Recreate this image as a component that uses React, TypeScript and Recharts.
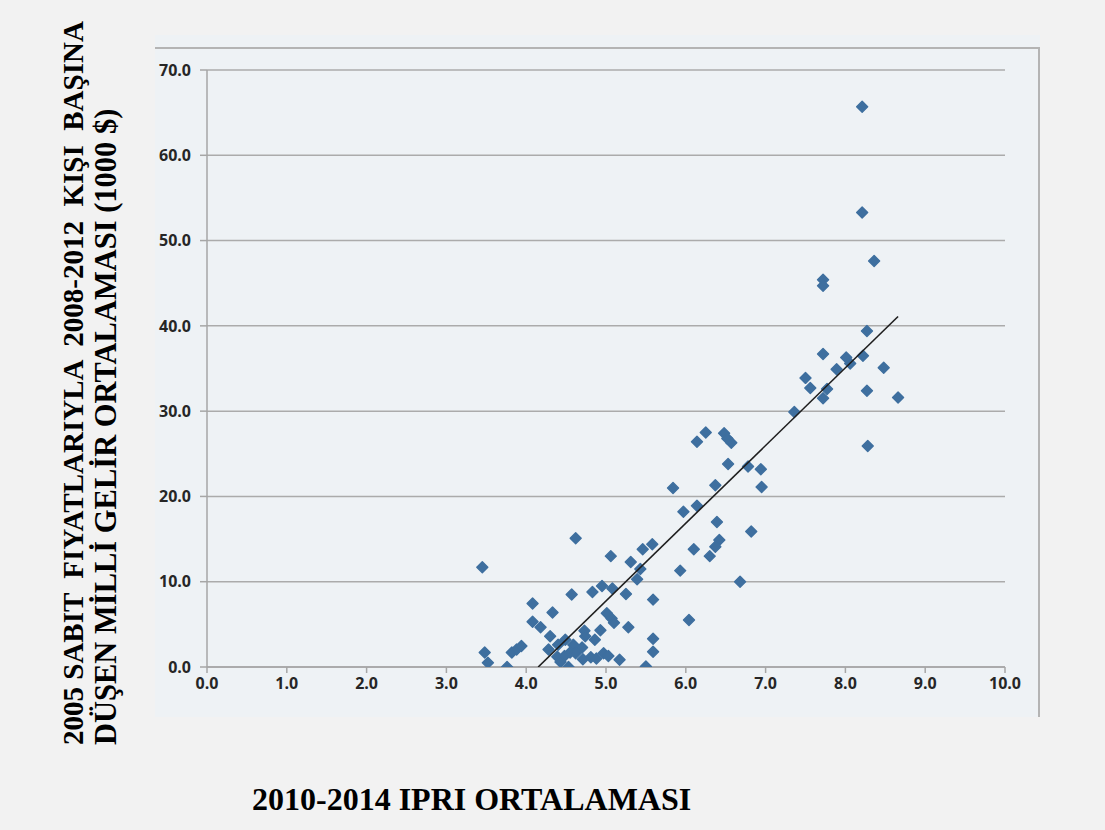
import React from 'react';
import { ScatterChart, Scatter, XAxis, YAxis, CartesianGrid } from 'recharts';

// IPRI average 2010-2014 (x) for each country
const ipri: number[] = [
  3.45, 3.48, 3.52, 3.76, 3.82, 3.88, 3.94,
  4.08, 4.08, 4.18, 4.33, 4.30, 4.28,
  4.40, 4.49, 4.39, 4.48, 4.55, 4.43, 4.53,
  4.57, 4.62, 4.83, 4.95, 5.08, 5.25, 5.39,
  5.59, 5.01, 5.07, 5.10, 5.28, 4.93, 4.73,
  4.74, 4.86, 5.59, 5.59, 4.59, 4.70, 4.62,
  4.81, 4.88, 4.97, 5.03, 4.71, 5.17, 5.50,
  5.06, 5.31, 5.43, 5.46, 5.58, 5.93, 6.04, 6.68,
  6.25, 6.14, 6.48, 6.52, 6.57, 6.53, 6.78, 6.94, 6.95, 5.84,
  6.37, 6.14, 5.97, 6.39, 6.82, 6.42, 6.37, 6.30, 6.10,
  7.36, 8.21, 8.21, 8.36, 7.72, 7.72, 8.27, 7.72, 8.01, 8.06,
  8.22, 7.89, 8.48, 7.50, 7.56, 7.77, 7.72, 8.27, 8.66, 8.28,
];

// 2008-2012 average per-capita national income, constant 2005 prices (1000 $)
const income: number[] = [
  11.7, 1.7, 0.5, 0.0, 1.7, 2.05, 2.45,
  7.45, 5.3, 4.65, 6.4, 3.6, 2.05,
  2.6, 3.2, 1.2, 1.3, 1.7, 0.6, 0.0,
  8.5, 15.1, 8.8, 9.5, 9.2, 8.55, 10.3,
  7.9, 6.3, 5.7, 5.2, 4.65, 4.3, 4.25,
  3.6, 3.2, 3.3, 1.8, 2.6, 2.3, 1.6,
  1.15, 1.0, 1.6, 1.3, 0.9, 0.85, 0.05,
  13.0, 12.3, 11.5, 13.8, 14.4, 11.3, 5.5, 10.0,
  27.5, 26.4, 27.4, 26.8, 26.3, 23.8, 23.5, 23.2, 21.1, 21.0,
  21.3, 18.9, 18.2, 17.0, 15.9, 14.9, 14.1, 13.0, 13.8,
  29.9, 65.7, 53.3, 47.6, 45.4, 44.7, 39.4, 36.7, 36.3, 35.6,
  36.5, 34.9, 35.1, 33.9, 32.7, 32.6, 31.5, 32.4, 31.6, 25.9,
];

// Linear trend line end points
const trendX: number[] = [4.15, 8.66];
const trendY: number[] = [0.0, 41.1];

const xTicks: number[] = [0, 1, 2, 3, 4, 5, 6, 7, 8, 9, 10];
const yTicks: number[] = [0, 10, 20, 30, 40, 50, 60, 70];

const yTitleLine1 = '2005 SABIT  FIYATLARIYLA  2008-2012  KIŞI  BAŞINA';
const yTitleLine2 = 'DÜŞEN MİLLİ GELİR ORTALAMASI (1000 $)';
const xTitle = '2010-2014 IPRI ORTALAMASI';

const points = ipri.map((x, i) => ({ x, y: income[i] }));
const trend = trendX.map((x, i) => ({ x, y: trendY[i] }));

const MARKER = '#3E6F9F';

const Diamond = (props: any) => {
  const { cx, cy } = props;
  if (cx == null || cy == null) return <g />;
  const r = 5.5;
  return (
    <path
      d={`M${cx},${cy - r}L${cx + r},${cy}L${cx},${cy + r}L${cx - r},${cy}Z`}
      fill={MARKER}
      stroke={MARKER}
      strokeWidth={1.4}
      strokeLinejoin="round"
    />
  );
};

const NoShape = () => <g />;

const tickStyle = {
  fill: '#262626',
  fontSize: 16,
  fontWeight: 700,
  fontFamily: '"Open Sans", sans-serif',
};

const serif = '"Liberation Serif", "Times New Roman", serif';

export default function App() {
  return (
    <div
      style={{
        position: 'absolute',
        left: 0,
        top: 0,
        width: 1105,
        height: 830,
        background: '#f2f2f2',
        overflow: 'hidden',
      }}
    >
      <div
        style={{
          position: 'absolute',
          left: 155,
          top: 35,
          width: 885,
          height: 682,
          background: '#eef2f5',
        }}
      />
      <div
        style={{
          position: 'absolute',
          left: 155,
          top: 47,
          width: 885,
          height: 670,
          borderTop: '2px solid #b4b4b4',
          borderRight: '2px solid #b4b4b4',
          boxSizing: 'border-box',
        }}
      />
      <div style={{ position: 'absolute', left: 0, top: 0 }}>
        <ScatterChart
          width={1105}
          height={830}
          margin={{ top: 70, right: 100, bottom: 133, left: 150 }}
        >
          <CartesianGrid
            horizontal
            vertical={false}
            stroke="#ababab"
            strokeWidth={1.5}
          />
          <XAxis
            type="number"
            dataKey="x"
            domain={[0, 10]}
            ticks={xTicks}
            tickFormatter={(v: number) => v.toFixed(1)}
            stroke="#a6a6a6"
            strokeWidth={1.5}
            tick={tickStyle}
            tickSize={6}
            tickMargin={5}
            height={30}
            allowDataOverflow
          />
          <YAxis
            type="number"
            dataKey="y"
            domain={[0, 70]}
            ticks={yTicks}
            tickFormatter={(v: number) => v.toFixed(1)}
            stroke="#a6a6a6"
            strokeWidth={1.5}
            tick={tickStyle}
            tickSize={7}
            tickMargin={9}
            width={57}
            allowDataOverflow
          />
          <Scatter
            data={points}
            shape={Diamond}
            isAnimationActive={false}
          />
          <Scatter
            data={trend}
            shape={NoShape}
            line={{ stroke: '#1e1e1e', strokeWidth: 1.6 }}
            isAnimationActive={false}
          />
        </ScatterChart>
      </div>
      <svg
        width={1105}
        height={830}
        style={{ position: 'absolute', left: 0, top: 0, pointerEvents: 'none' }}
      >
        <text
          transform="translate(83,745) rotate(-90)"
          fontFamily={serif}
          fontWeight="bold"
          fontSize={29}
          fill="#000"
          style={{ whiteSpace: 'pre' }}
        >
          {yTitleLine1}
        </text>
        <text
          transform="translate(116,745) rotate(-90)"
          fontFamily={serif}
          fontWeight="bold"
          fontSize={30.5}
          fill="#000"
        >
          {yTitleLine2}
        </text>
        <text
          x={252}
          y={810}
          fontFamily={serif}
          fontWeight="bold"
          fontSize={32}
          fill="#000"
        >
          {xTitle}
        </text>
      </svg>
    </div>
  );
}
